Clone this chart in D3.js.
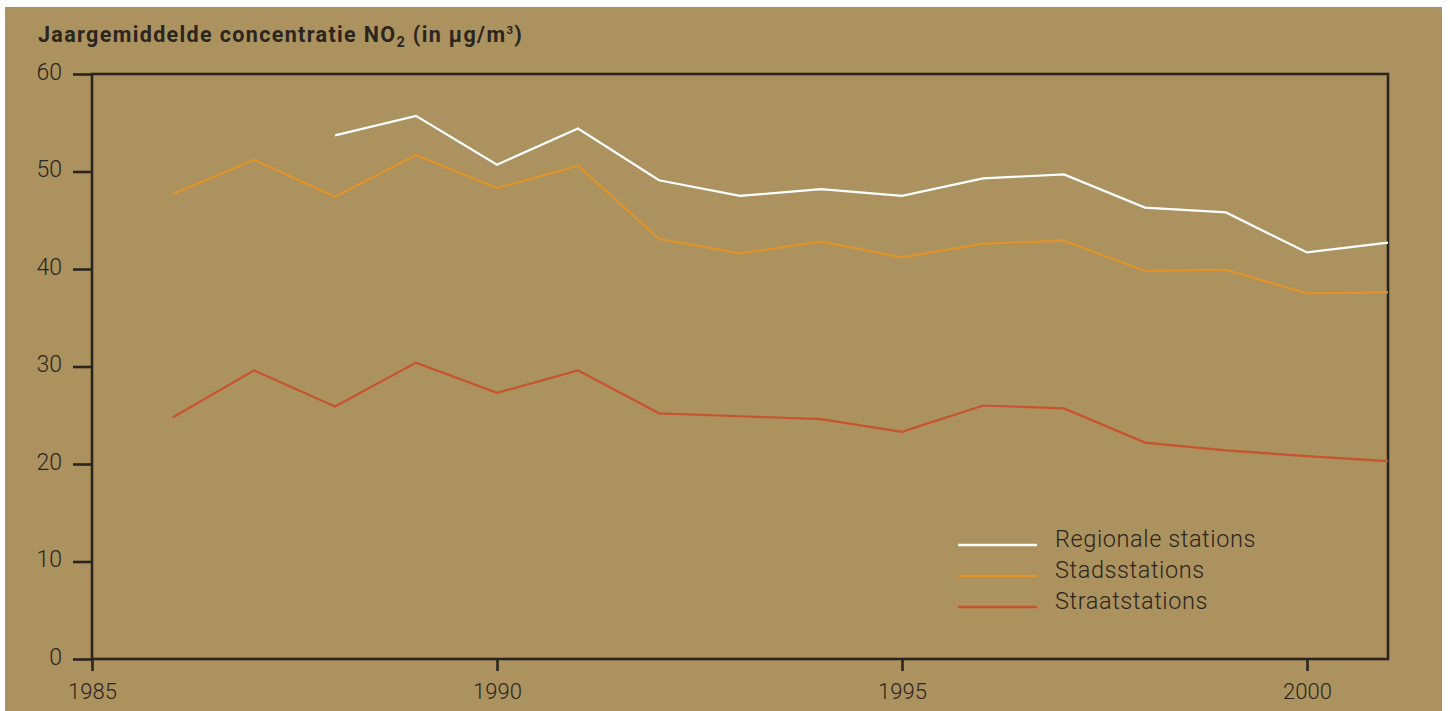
<!DOCTYPE html>
<html>
<head>
<meta charset="utf-8">
<script src="https://cdn.jsdelivr.net/npm/d3@7"></script>
<style>
  body { margin: 0; background: #fff; }
  text { font-family: Roboto, "Open Sans", sans-serif; fill: #2b2520; }
</style>
</head>
<body>
<div id="chart"></div>
<script>
// jaren en jaargemiddelden NO2 (µg/m3)
const years = [1986, 1987, 1988, 1989, 1990, 1991, 1992, 1993, 1994, 1995, 1996, 1997, 1998, 1999, 2000, 2001];
const regionale = [null, null, 53.7, 55.7, 50.7, 54.4, 49.1, 47.5, 48.2, 47.5, 49.3, 49.7, 46.3, 45.8, 41.7, 42.7];
const stads = [47.7, 51.2, 47.4, 51.7, 48.3, 50.6, 43.1, 41.6, 42.8, 41.2, 42.6, 42.9, 39.8, 39.9, 37.5, 37.6];
const straat = [24.8, 29.6, 25.9, 30.4, 27.3, 29.6, 25.2, 24.9, 24.6, 23.3, 26.0, 25.7, 22.2, 21.4, 20.8, 20.3];
const seriesNames = ["Regionale stations", "Stadsstations", "Straatstations"];
const xTicks = [1985, 1990, 1995, 2000];
const yTicks = [0, 10, 20, 30, 40, 50, 60];

const W = 1450, H = 711;
const mLeft = 92, mRight = 1388, mTop = 74, mBottom = 659;
const colors = ["#ffffff", "#e0942c", "#c8532f"];

const svg = d3.select("#chart").append("svg")
  .attr("width", W)
  .attr("height", H);

// achtergrond
svg.append("rect")
  .attr("x", 5).attr("y", 7)
  .attr("width", 1437).attr("height", 704)
  .attr("fill", "#ab925e");

const x = d3.scaleLinear().domain([1985, 2001]).range([mLeft, mRight]);
const y = d3.scaleLinear().domain([0, 60]).range([mBottom, mTop]);

// kader
svg.append("rect")
  .attr("x", mLeft).attr("y", mTop)
  .attr("width", mRight - mLeft).attr("height", mBottom - mTop)
  .attr("fill", "none")
  .attr("stroke", "#2b2520")
  .attr("stroke-width", 2.6);

const yAxis = d3.axisLeft(y).tickValues(yTicks).tickSize(19).tickPadding(11);
const xAxis = d3.axisBottom(x).tickValues(xTicks).tickFormat(d3.format("d")).tickSize(12).tickPadding(12);

const gy = svg.append("g").attr("transform", "translate(" + mLeft + ",0)").call(yAxis);
const gx = svg.append("g").attr("transform", "translate(0," + mBottom + ")").call(xAxis);
[gy, gx].forEach(g => {
  g.select(".domain").remove();
  g.selectAll("line").attr("stroke", "#2b2520").attr("stroke-width", 2.6);
  g.selectAll("text").attr("font-weight", 300)
    .style("font-family", "Roboto, sans-serif").attr("fill", "#2b2520");
});
gy.selectAll("text").attr("font-size", 23).attr("dy", 5);
gx.selectAll("text").attr("font-size", 22).attr("dy", "0.71em");

// titel
const title = svg.append("text")
  .attr("x", 38).attr("y", 42)
  .attr("font-size", 21.5)
  .attr("font-weight", 700)
  .attr("letter-spacing", 1.35);
title.append("tspan").text("Jaargemiddelde concentratie NO");
title.append("tspan").attr("font-size", 14.5).attr("dy", 5).text("2");
title.append("tspan").attr("dy", -5).text(" (in µg/m");
title.append("tspan").attr("font-size", 11.5).attr("dy", -8).text("3");
title.append("tspan").attr("dy", 8).text(")");

// lijnen
const allSeries = [regionale, stads, straat];
const line = d3.line()
  .defined(d => d[1] != null)
  .x(d => x(d[0]))
  .y(d => y(d[1]));

allSeries.forEach((vals, i) => {
  svg.append("path")
    .datum(years.map((yr, j) => [yr, vals[j]]))
    .attr("fill", "none")
    .attr("stroke", colors[i])
    .attr("stroke-width", 2.2)
    .attr("stroke-linejoin", "miter")
    .attr("d", line);
});

// legenda
const leg = svg.append("g").attr("transform", "translate(958,545)");
seriesNames.forEach((name, i) => {
  leg.append("line")
    .attr("x1", 0).attr("x2", 79)
    .attr("y1", i * 31).attr("y2", i * 31)
    .attr("stroke", colors[i])
    .attr("stroke-width", 2.6);
  leg.append("text")
    .attr("x", 97).attr("y", i * 31 + 2)
    .attr("font-size", 23.5)
    .attr("font-weight", 300)
    .attr("letter-spacing", 0.6)
    .text(name);
});
</script>
</body>
</html>
